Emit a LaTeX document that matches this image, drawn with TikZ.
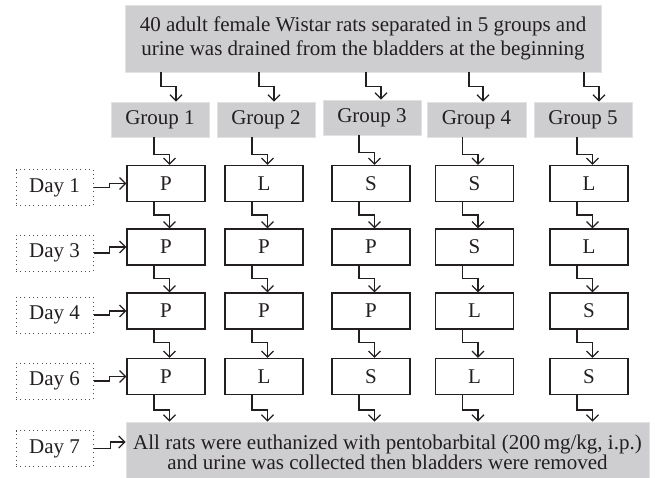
\documentclass[tikz,border=0pt]{standalone}
\usepackage{fontspec}
\setmainfont{Liberation Serif}
\usetikzlibrary{arrows.meta}
\definecolor{boxgray}{RGB}{206,206,208}
\definecolor{ink}{RGB}{35,31,32}

\begin{document}
\begin{tikzpicture}[x=1pt,y=-1pt,
	every node/.style={text=ink,font=\fontsize{21}{24}\selectfont},
	graybox/.style={fill=boxgray,draw=boxgray!60,line width=0.8pt,inner sep=0pt,align=center},
	drugbox/.style={draw=ink,line width=1.1pt,minimum width=78pt,minimum height=36pt,inner sep=0pt},
	daybox/.style={draw=ink!80,line width=1pt,dash pattern=on 1pt off 3.3pt,minimum width=77pt,minimum height=36pt,inner sep=0pt},
	elbow/.style={draw=ink,line width=1.25pt,-{Straight Barb[length=6pt,width=12pt]}}]
	\useasboundingbox (0,0) rectangle (655,477);

	% gray boxes
	\node[graybox,minimum width=476pt,minimum height=67pt] (start) at (363,38.5)
		{40 adult female Wistar rats separated in 5 groups and\\urine was drained from the bladders at the beginning};
	\node[graybox,minimum width=98pt,minimum height=35pt] (g1) at (160,119.5) {Group 1};
	\node[graybox,minimum width=98pt,minimum height=35pt] (g2) at (266,119.5) {Group 2};
	\node[graybox,minimum width=98pt,minimum height=35pt] (g3) at (372,117.5) {Group 3};
	\node[graybox,minimum width=99pt,minimum height=35pt] (g4) at (476.5,119.5) {Group 4};
	\node[graybox,minimum width=98pt,minimum height=35pt] (g5) at (583,119.5) {Group 5};
	\node[graybox,minimum width=523pt,minimum height=60pt,font=\fontsize{21}{20}\selectfont] (euth) at (387.5,452)
		{All rats were euthanized with pentobarbital (200\,mg/kg, i.p.)\\and urine was collected then bladders were removed};

	% days
	\node[daybox] (d1) at (54.5,187.5) {Day 1};
	\node[daybox] (d3) at (54.5,253) {Day 3};
	\node[daybox] (d4) at (54.5,315) {Day 4};
	\node[daybox] (d6) at (54.5,381) {Day 6};
	\node[daybox] (d7) at (54.5,448.5) {Day 7};

	% treatments
	\foreach \c/\x/\ra/\rb/\rc/\rd in {1/166/P/P/P/P,2/264/L/P/P/L,3/371/S/P/P/S,4/474.5/S/S/L/L,5/589/L/L/S/S} {
		\node[drugbox] (b\c-1) at (\x,183.5) {\ra};
		\node[drugbox] (b\c-2) at (\x,247) {\rb};
		\node[drugbox] (b\c-3) at (\x,311) {\rc};
		\node[drugbox] (b\c-4) at (\x,376.5) {\rd};
	}

	% arrows
	\foreach \c/\sx/\ex in {1/161/176,2/259/274,3/366/381,4/469/483,5/584/599}
		\draw[elbow] (start.south -| \sx,0) -- ++(0,14) -| (g\c.north -| \ex,0);
	\foreach \c in {1,...,5} {
		\draw[elbow] ([xshift=-12pt]b\c-1.north |- g\c.south) -- ++(0,17) -| ([xshift=3.5pt]b\c-1.north);
		\foreach \r/\s in {1/2,2/3,3/4}
			\draw[elbow] ([xshift=-12pt]b\c-\r.south) -- ++(0,13) -| ([xshift=3.5pt]b\c-\s.north);
		\draw[elbow] ([xshift=-12pt]b\c-4.south) -- ++(0,15) -| ([xshift=3.5pt]b\c-4.south |- euth.north);
	}
	\foreach \d/\r in {1/1,3/2,4/3,6/4}
		\draw[elbow] (d\d.east) -- ++(16,0) |- (b1-\r.west);
	\draw[elbow] (d7.east) -- ++(17,0) |- ([yshift=10pt]euth.west);
\end{tikzpicture}
\end{document}
